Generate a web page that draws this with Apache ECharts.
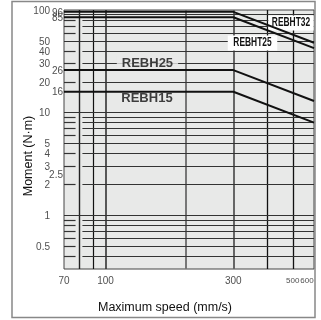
<!DOCTYPE html>
<html><head><meta charset="utf-8">
<script src="https://cdn.jsdelivr.net/npm/echarts@6/dist/echarts.min.js"></script>
<style>html,body{margin:0;padding:0;background:#fff}#c{width:321px;height:320px}</style>
</head><body><div id="c"></div>
<script>
// ---- data ----
const speeds = [70, 300, 600];
const rebht32 = [96, 96, 48];
const rebht25 = [85, 85, 42.5];
const rebh25 = [26, 26, 13];
const rebh15 = [16, 16, 8];
const seriesNames = ['REBHT32', 'REBHT25', 'REBH25', 'REBH15'];
const xTickLabels = [70, 100, 300];
const xTickSmall = [500, 600];
const yTickMain = [100, 50, 40, 30, 20, 10, 5, 4, 3, 2, 1, 0.5];
const yTickSpecial = [96, 85, 26, 16, 2.5];
const xGridLines = [80, 90, 100, 200, 300, 400, 500];
const yGridFull = [1, 5, 10, 50, 90];
const yGridBroken = [0.4, 0.5, 0.6, 0.7, 0.8, 0.9, 2, 3, 4, 6, 7, 8, 9, 20, 30, 40, 60, 70, 80];

const X_MIN = 70, X_MAX = 600, Y_MIN = 0.3, Y_MAX = 100;
const sans = "'Liberation Sans', Arial, sans-serif";

const vStyle = {80: ['#222', 1.4], 90: ['#111', 1.2], 100: ['#333', 1.6], 200: ['#777', 2], 300: ['#666', 2], 400: ['#111', 1.3], 500: ['#111', 1.3]};
const gridData = [];
xGridLines.forEach(x => gridData.push({coords: [[x, Y_MIN], [x, Y_MAX]], lineStyle: {color: vStyle[x][0], width: vStyle[x][1]}}));
yGridFull.forEach(y => gridData.push({coords: [[X_MIN, y], [X_MAX, y]], lineStyle: {color: '#333', width: 1.2}}));
yGridBroken.forEach(y => {
  gridData.push({coords: [[X_MIN, y], [77.3, y]], lineStyle: {color: '#333', width: 1.2}});
  gridData.push({coords: [[82, y], [X_MAX, y]], lineStyle: {color: '#333', width: 1.2}});
});

function lineSeries(vals, name) {
  return {type: 'line', name, z: 4, symbol: 'none', silent: true,
    data: speeds.map((x, i) => [x, vals[i]]),
    lineStyle: {color: '#111', width: 2}};
}

const chart = echarts.init(document.getElementById('c'), null, {renderer: 'canvas'});
chart.setOption({
  animation: false,
  grid: {left: 64, right: 7, top: 10, bottom: 51, show: true, backgroundColor: '#e8e9e8', borderColor: '#444', borderWidth: 1},
  xAxis: {type: 'log', min: X_MIN, max: X_MAX, axisLine: {show: false}, axisTick: {show: false}, axisLabel: {show: false}, splitLine: {show: false}},
  yAxis: {type: 'log', min: Y_MIN, max: Y_MAX, axisLine: {show: false}, axisTick: {show: false}, axisLabel: {show: false}, splitLine: {show: false}},
  series: [
    {type: 'lines', coordinateSystem: 'cartesian2d', z: 1, silent: true, data: gridData, lineStyle: {opacity: 1}},
    {type: 'scatter', z: 3, symbolSize: 0, clip: false, silent: true,
      data: [
        {value: [143.4, 30.1], name: seriesNames[2], label: {backgroundColor: '#e8e9e8', padding: [1, 5, 0, 5]}},
        {value: [142.8, 13.8], name: seriesNames[3]}
      ],
      label: {show: true, position: 'inside', formatter: p => p.name, fontFamily: sans, fontSize: 13, fontWeight: 'bold', color: '#111'}},
    lineSeries(rebht32, seriesNames[0]),
    lineSeries(rebht25, seriesNames[1]),
    lineSeries(rebh25, seriesNames[2]),
    lineSeries(rebh15, seriesNames[3]),
    {type: 'scatter', symbolSize: 0, clip: false, silent: true, data: yTickMain.map(v => [X_MIN, v]),
      label: {show: true, position: 'left', distance: 14, offset: [0, 1], formatter: p => String(p.value[1]), fontFamily: sans, fontSize: 10, color: '#222'}},
    {type: 'scatter', symbolSize: 0, clip: false, silent: true, data: yTickSpecial.map(v => [X_MIN, v]),
      label: {show: true, position: 'left', distance: 1, offset: [0, 1], formatter: p => String(p.value[1]), fontFamily: sans, fontSize: 10, color: '#222'}},
    {type: 'scatter', symbolSize: 0, clip: false, silent: true, data: xTickLabels.map(v => [v, Y_MIN]),
      label: {show: true, position: 'bottom', distance: 7, formatter: p => String(p.value[0]), fontFamily: sans, fontSize: 10, color: '#222'}},
    {type: 'scatter', symbolSize: 0, clip: false, silent: true,
      data: xTickSmall.map((v, i) => ({value: [v, Y_MIN], label: {offset: [i === xTickSmall.length - 1 ? -7 : 0, 0]}})),
      label: {show: true, position: 'bottom', distance: 8, formatter: p => String(p.value[0]), fontFamily: sans, fontSize: 8, color: '#222'}}
  ],
  graphic: [
    {type: 'rect', shape: {x: 12, y: 1.5, width: 303, height: 316}, style: {fill: 'none', stroke: '#888', lineWidth: 1.5}, silent: true},
    {type: 'text', z: 3, x: 291, y: 23, scaleX: 0.7, style: {text: seriesNames[0], font: "bold 12px 'Liberation Sans', Arial, sans-serif", fill: '#111', align: 'center', verticalAlign: 'middle', backgroundColor: '#fff', padding: [2, 5, 1, 5]}},
    {type: 'text', z: 3, x: 252.5, y: 43, scaleX: 0.7, style: {text: seriesNames[1], font: "bold 12px 'Liberation Sans', Arial, sans-serif", fill: '#111', align: 'center', verticalAlign: 'middle', backgroundColor: '#fff', padding: [2, 8, 1, 8]}},
    {type: 'text', x: 165, y: 308, style: {text: 'Maximum speed (mm/s)', font: "12.5px 'Liberation Sans', Arial, sans-serif", fill: '#111', align: 'center', verticalAlign: 'middle'}},
    {type: 'text', x: 29, y: 156, rotation: Math.PI / 2, style: {text: 'Moment (N·m)', font: "12.5px 'Liberation Sans', Arial, sans-serif", fill: '#111', align: 'center', verticalAlign: 'middle'}}
  ]
});
</script></body></html>
